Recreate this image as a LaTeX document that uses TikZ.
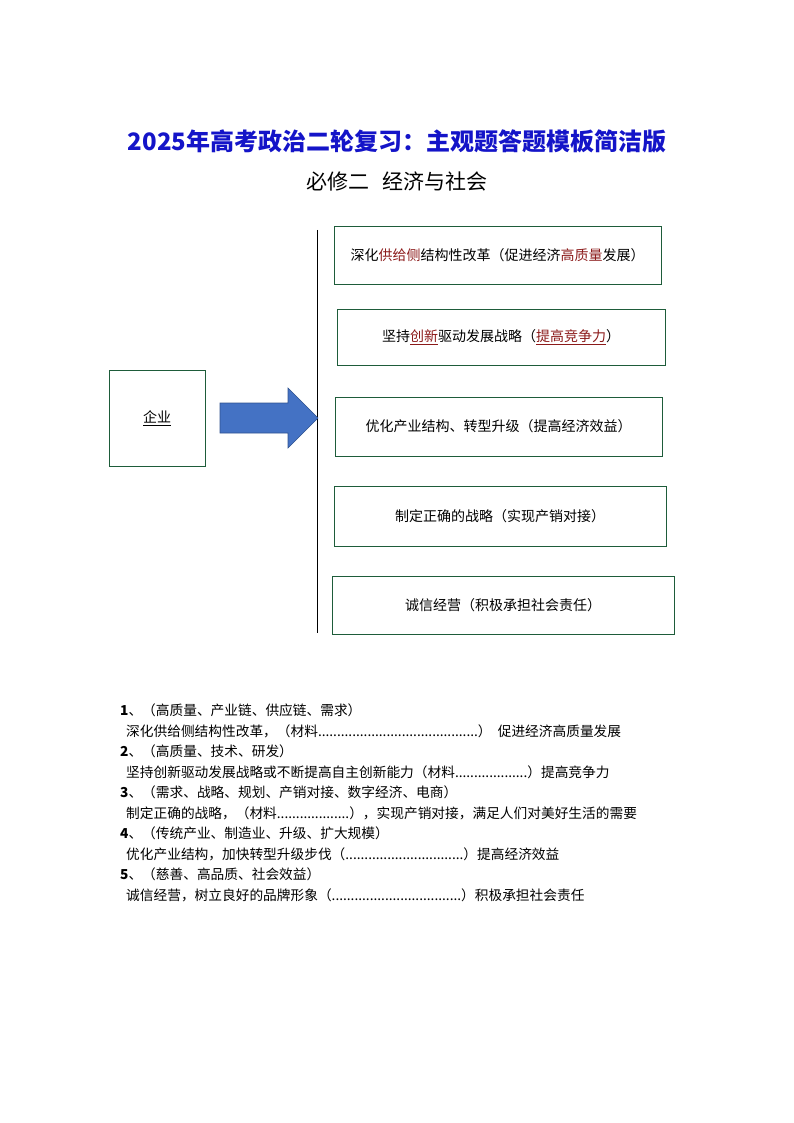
\documentclass[tikz,border=0pt]{standalone}
\usepackage{fontspec}
\setmainfont{Noto Sans CJK SC}
\usepackage{xcolor}
\definecolor{bx}{HTML}{1E5C3A}
\definecolor{dr}{HTML}{8B1A1A}
\definecolor{tb}{HTML}{1414C8}
\definecolor{ar}{HTML}{4472C4}
\definecolor{ard}{HTML}{2F528F}
\begin{document}
\begin{tikzpicture}[x=1pt,y=-1pt,
  bx/.style={draw=bx,line width=0.8pt},
  lbl/.style={font=\fontsize{14}{16}\selectfont,anchor=center},
  ln/.style={font=\fontsize{13.7}{15}\selectfont,anchor=west,inner sep=0pt}]
\useasboundingbox (0,0) rectangle (794,1123);
\node[font=\fontsize{24}{27}\selectfont\bfseries,text=tb] (t) at (397,141) {2025年高考政治二轮复习：主观题答题模板简洁版};
\node[font=\fontsize{21}{24}\selectfont] (st) at (397,181) {必修二\hspace{0.6em}经济与社会};
\draw[line width=0.8pt] (317,230) coordinate (la) -- (317,633) coordinate (lb);
\node[bx,minimum width=96pt,minimum height=96pt,lbl] (qy) at (157,418) {\underline{企业}};
\draw[ard,fill=ar,line width=0.6pt] (220,403) -- (288,403) -- (288,388) -- (318,418) -- (288,448) -- (288,433) -- (220,433) -- cycle;
\node[bx,minimum width=327pt,minimum height=58pt,lbl] (b1) at (497.5,255) {深化\textcolor{dr}{供给侧}结构性改革（促进经济\textcolor{dr}{高质量}发展）};
\node[bx,minimum width=328pt,minimum height=56pt,lbl] (b2) at (501,337) {坚持\textcolor{dr}{\underline{创新}}驱动发展战略（\textcolor{dr}{\underline{提高竞争力}}）};
\node[bx,minimum width=327pt,minimum height=59pt,lbl] (b3) at (498.5,426.5) {优化产业结构、转型升级（提高经济效益）};
\node[bx,minimum width=332pt,minimum height=60pt,lbl] (b4) at (500,516) {制定正确的战略（实现产销对接）};
\node[bx,minimum width=342pt,minimum height=58pt,lbl] (b5) at (503,605) {诚信经营（积极承担社会责任）};
\node[ln] (l1) at (120,710) {\textbf{1}、（高质量、产业链、供应链、需求）};
\node[ln] (l2) at (126,731) {深化供给侧结构性改革，（材料..........................................）\ \ 促进经济高质量发展};
\node[ln] (l3) at (120,751) {\textbf{2}、（高质量、技术、研发）};
\node[ln] (l4) at (126,772) {坚持创新驱动发展战略或不断提高自主创新能力（材料...................）提高竞争力};
\node[ln] (l5) at (120,792) {\textbf{3}、（需求、战略、规划、产销对接、数字经济、电商）};
\node[ln] (l6) at (126,813) {制定正确的战略，（材料...................），实现产销对接，满足人们对美好生活的需要};
\node[ln] (l7) at (120,833) {\textbf{4}、（传统产业、制造业、升级、扩大规模）};
\node[ln] (l8) at (126,854) {优化产业结构，加快转型升级步伐（...............................）提高经济效益};
\node[ln] (l9) at (120,874) {\textbf{5}、（慈善、高品质、社会效益）};
\node[ln] (l10) at (126,895) {诚信经营，树立良好的品牌形象（..................................）积极承担社会责任};
\end{tikzpicture}
\end{document}
